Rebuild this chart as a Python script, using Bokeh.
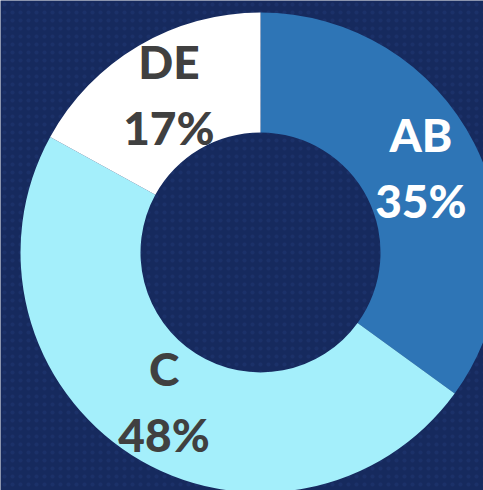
import math
from bokeh.plotting import figure
from bokeh.models import ColumnDataSource, Range1d, BoxAnnotation
from bokeh.core.properties import value
from bokeh.embed import file_html
from bokeh.resources import INLINE

# data
categories = ["AB", "C", "DE"]
shares = [0.35, 0.48, 0.17]
pct_labels = ["35%", "48%", "17%"]
colors = ["#2e75b6", "#a4effb", "#ffffff"]
text_colors = ["#ffffff", "#404040", "#404040"]

BG = "#162a5e"
CX, CY = 260, -252
R_OUT, R_IN = 240, 120
R_LAB = 180
FONT = "Lato Black"

starts, ends, lx, ly = [], [], [], []
cum = 0.0
for s in shares:
    a0 = math.pi / 2 - 2 * math.pi * cum
    a1 = math.pi / 2 - 2 * math.pi * (cum + s)
    starts.append(a0)
    ends.append(a1)
    mid = (a0 + a1) / 2
    lx.append(CX + R_LAB * math.cos(mid))
    ly.append(CY + R_LAB * math.sin(mid) + 3)
    cum += s

src = ColumnDataSource(dict(
    cat=categories, pct=pct_labels, start=starts, end=ends, color=colors,
    tcolor=text_colors, x=[CX] * 3, y=[CY] * 3,
    lx=lx, ly_top=[v + 33 for v in ly], ly_bot=[v - 33 for v in ly],
))

p = figure(width=483, height=490, output_backend="svg", toolbar_location=None,
           x_range=Range1d(0, 483), y_range=Range1d(-490, 0), min_border=0,
           background_fill_color=BG, border_fill_color=BG, outline_line_color=None)
p.axis.visible = False
p.grid.visible = False

p.add_layout(BoxAnnotation(fill_color=None, line_color=None, hatch_pattern="dot",
                           hatch_color="#1b3169", hatch_scale=8, hatch_weight=1,
                           level="underlay"))

p.annular_wedge(x="x", y="y", inner_radius=R_IN, outer_radius=R_OUT,
                start_angle="start", end_angle="end", direction="clock",
                fill_color="color", line_color=None, source=src)

p.text(x="lx", y="ly_top", text="cat", text_color="tcolor", text_align="center",
       text_baseline="middle", text_font=value(FONT), text_font_style="bold",
       text_font_size="46px", source=src)
p.text(x="lx", y="ly_bot", text="pct", text_color="tcolor", text_align="center",
       text_baseline="middle", text_font=value(FONT), text_font_style="bold",
       text_font_size="46px", source=src)

html = file_html(p, INLINE)
html = html.replace("<body>", '<body style="background-color:%s;">' % BG, 1)
open("out.html", "w").write(html)
